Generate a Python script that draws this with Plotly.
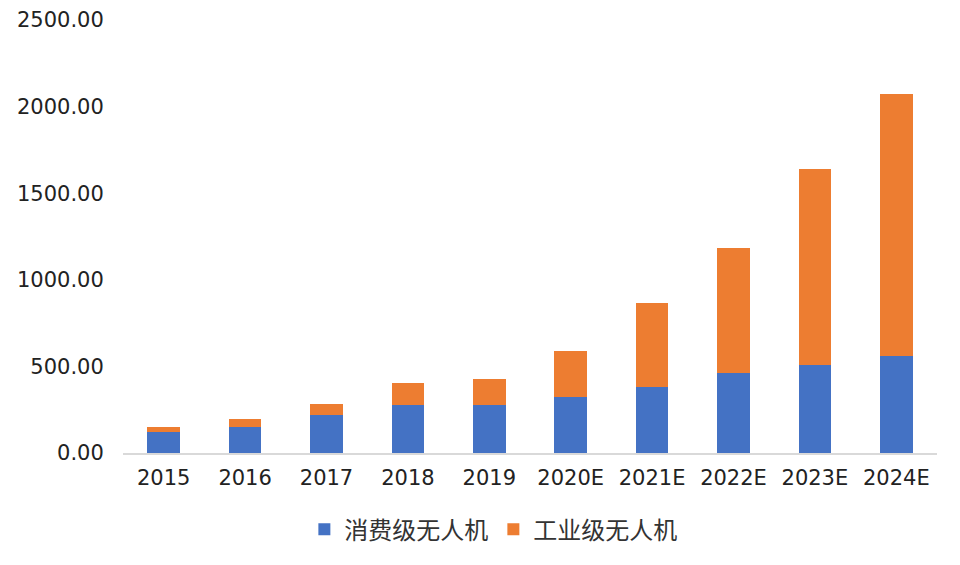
import plotly.graph_objects as go

years = ["2015", "2016", "2017", "2018", "2019", "2020E", "2021E", "2022E", "2023E", "2024E"]
consumer = [121, 148, 218, 277, 277, 325, 383, 460, 506, 558]
industrial = [29, 47, 65, 127, 148, 266, 483, 724, 1132, 1515]
series_names = ["消费级无人机", "工业级无人机"]
colors = ["#4472C4", "#ED7D31"]

fig = go.Figure()
fig.add_trace(go.Bar(x=years, y=consumer, name=series_names[0], marker=dict(color=colors[0], line=dict(width=0))))
fig.add_trace(go.Bar(x=years, y=industrial, name=series_names[1], marker=dict(color=colors[1], line=dict(width=0))))

fig.update_layout(
    width=960, height=565,
    barmode="stack", bargap=0.6,
    plot_bgcolor="white", paper_bgcolor="white",
    margin=dict(l=115, r=31, t=12, b=120),
    font=dict(family="DejaVu Sans, Liberation Sans, Noto Sans CJK SC", size=21, color="#222222"),
    showlegend=True,
    legend=dict(orientation="h", x=0.455, xanchor="center", y=-0.125, yanchor="top",
                font=dict(family="Noto Sans CJK SC, Liberation Sans", size=24, color="#333333"),
                itemwidth=30, traceorder="normal"),
    xaxis=dict(showgrid=False, showline=True, linecolor="#d9d9d9", linewidth=2, automargin=False,
               ticks="outside", ticklen=5, tickcolor="rgba(0,0,0,0)"),
    yaxis=dict(range=[0, 2500], dtick=500, tickformat=".2f", showgrid=False, zeroline=False,
               showline=False, automargin=False, ticks="outside", ticklen=14, tickcolor="rgba(0,0,0,0)"),
)

fig.write_html("out.html")
